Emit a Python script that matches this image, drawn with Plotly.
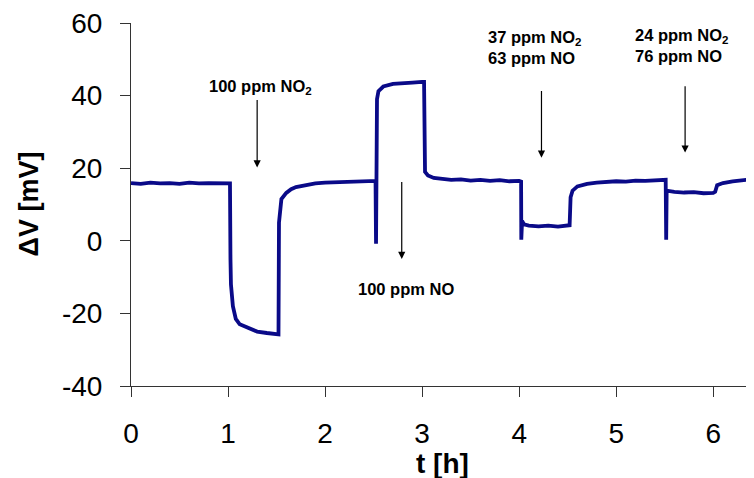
import plotly.graph_objects as go

# time [h]
t = [0.0, 0.1, 0.2, 0.3, 0.4, 0.5, 0.6, 0.7, 0.8, 0.9, 1.0, 1.02,
     1.025, 1.03, 1.05, 1.08, 1.12, 1.2, 1.3, 1.4, 1.5, 1.52,
     1.525, 1.535, 1.55, 1.6, 1.65, 1.7, 1.8, 1.9, 2.0, 2.1, 2.2, 2.3, 2.4, 2.5, 2.52,
     2.525, 2.53, 2.535, 2.55, 2.6, 2.7, 2.8, 2.9, 3.0, 3.02,
     3.03, 3.06, 3.12, 3.2, 3.3, 3.4, 3.5, 3.6, 3.7, 3.8, 3.9, 4.0, 4.02,
     4.022, 4.03, 4.05, 4.1, 4.2, 4.3, 4.4, 4.5, 4.52,
     4.53, 4.55, 4.6, 4.7, 4.8, 4.9, 5.0, 5.1, 5.2, 5.3, 5.4, 5.5, 5.51,
     5.515, 5.52, 5.6, 5.7, 5.8, 5.9, 6.0, 6.02,
     6.04, 6.1, 6.2, 6.3, 6.42]

# sensor response dV [mV]
dv = [15.9, 15.7, 16.0, 15.8, 15.9, 15.7, 16.0, 15.8, 15.9, 15.8, 15.9, 15.8,
      -5.0, -12.0, -18.0, -21.5, -23.0, -24.0, -25.0, -25.4, -25.8, -25.8,
      5.0, 9.0, 11.5, 13.2, 14.2, 14.8, 15.4, 15.8, 16.0, 16.1, 16.2, 16.3, 16.4, 16.5, 16.5,
      -0.8, 10.0, 39.0, 41.2, 42.5, 43.2, 43.5, 43.6, 43.8, 43.8,
      19.0, 18.0, 17.3, 17.0, 16.8, 16.9, 16.6, 16.8, 16.5, 16.7, 16.4, 16.5, 16.3,
      0.3, 5.5, 4.5, 4.2, 4.0, 4.2, 3.9, 4.1, 4.3,
      12.0, 13.8, 15.0, 15.7, 16.0, 16.2, 16.4, 16.3, 16.6, 16.5, 16.7, 16.8, 16.8,
      0.3, 13.8, 13.5, 13.3, 13.4, 13.1, 13.2, 13.5,
      15.3, 15.9, 16.4, 16.7, 17.0]

x_ticks = [0, 1, 2, 3, 4, 5, 6]
x_ticktext = ["0", "1", "2", "3", "4", "5", "6"]
y_ticks = [-40, -20, 0, 20, 40, 60]
y_ticktext = ["-40", "-20", "0", "20", "40", "60"]

# annotation texts and arrow positions (t, head value, tail value)
ann_texts = ["100 ppm NO<sub>2</sub>", "100 ppm NO",
             "37 ppm NO<sub>2</sub><br>63 ppm NO", "24 ppm NO<sub>2</sub><br>76 ppm NO"]
arrow_t = [1.30, 2.79, 4.23, 5.71]
arrow_head = [20.2, -5.0, 22.9, 24.3]
arrow_tail = [39.2, 16.6, 41.7, 43.0]
label_t = [1.33, 2.83, 4.165, 5.68]
label_v = [42.3, -13.3, 53.2, 53.7]

FONT = "Arial, Liberation Sans, sans-serif"
LINE = "#0a0a88"

fig = go.Figure()
fig.add_trace(go.Scatter(x=t, y=dv, mode="lines",
                         line=dict(color=LINE, width=3.8),
                         showlegend=False))

for i in range(4):
    fig.add_annotation(x=arrow_t[i], y=arrow_head[i], ax=arrow_t[i], ay=arrow_tail[i],
                       xref="x", yref="y", axref="x", ayref="y",
                       showarrow=True, arrowhead=2, arrowsize=1.2, arrowwidth=1.2,
                       arrowcolor="black", text="")
    fig.add_annotation(x=label_t[i], y=label_v[i], xref="x", yref="y",
                       text="<b>" + ann_texts[i] + "</b>", showarrow=False,
                       align="left", font=dict(family=FONT, size=16.5, color="black"))

fig.add_annotation(x=-0.1653, y=0.5, xref="paper", yref="paper",
                   xanchor="center", yanchor="middle",
                   text="<b>ΔV [mV]</b>", textangle=-90, showarrow=False,
                   font=dict(family=FONT, size=27, color="black"))
fig.add_annotation(x=0.5, y=-0.214, xref="paper", yref="paper",
                   xanchor="center", yanchor="middle",
                   text="<b>t [h]</b>", showarrow=False,
                   font=dict(family=FONT, size=28, color="black"))

fig.update_xaxes(range=[0, 6.42], tickvals=x_ticks, ticktext=x_ticktext,
                 ticks="outside", ticklen=10, ticklabelstandoff=12,
                 ticklabeloverflow="allow",
                 tickcolor="#333", showline=True, linecolor="#333", linewidth=1,
                 showgrid=False, zeroline=False, automargin=False,
                 tickfont=dict(family=FONT, size=28, color="black"))
fig.update_yaxes(range=[-40, 60], tickvals=y_ticks, ticktext=y_ticktext,
                 ticks="outside", ticklen=10, ticklabelstandoff=12,
                 ticklabeloverflow="allow",
                 tickcolor="#333", showline=True, linecolor="#333", linewidth=1,
                 showgrid=False, zeroline=False, automargin=False,
                 tickfont=dict(family=FONT, size=28, color="black"))

# the page body adds an 8 px offset, so margins are shifted to compensate
fig.update_layout(width=754, height=478,
                  margin=dict(l=123, r=8, t=15, b=100, autoexpand=False),
                  plot_bgcolor="white", paper_bgcolor="white")

fig.write_html("out.html")
